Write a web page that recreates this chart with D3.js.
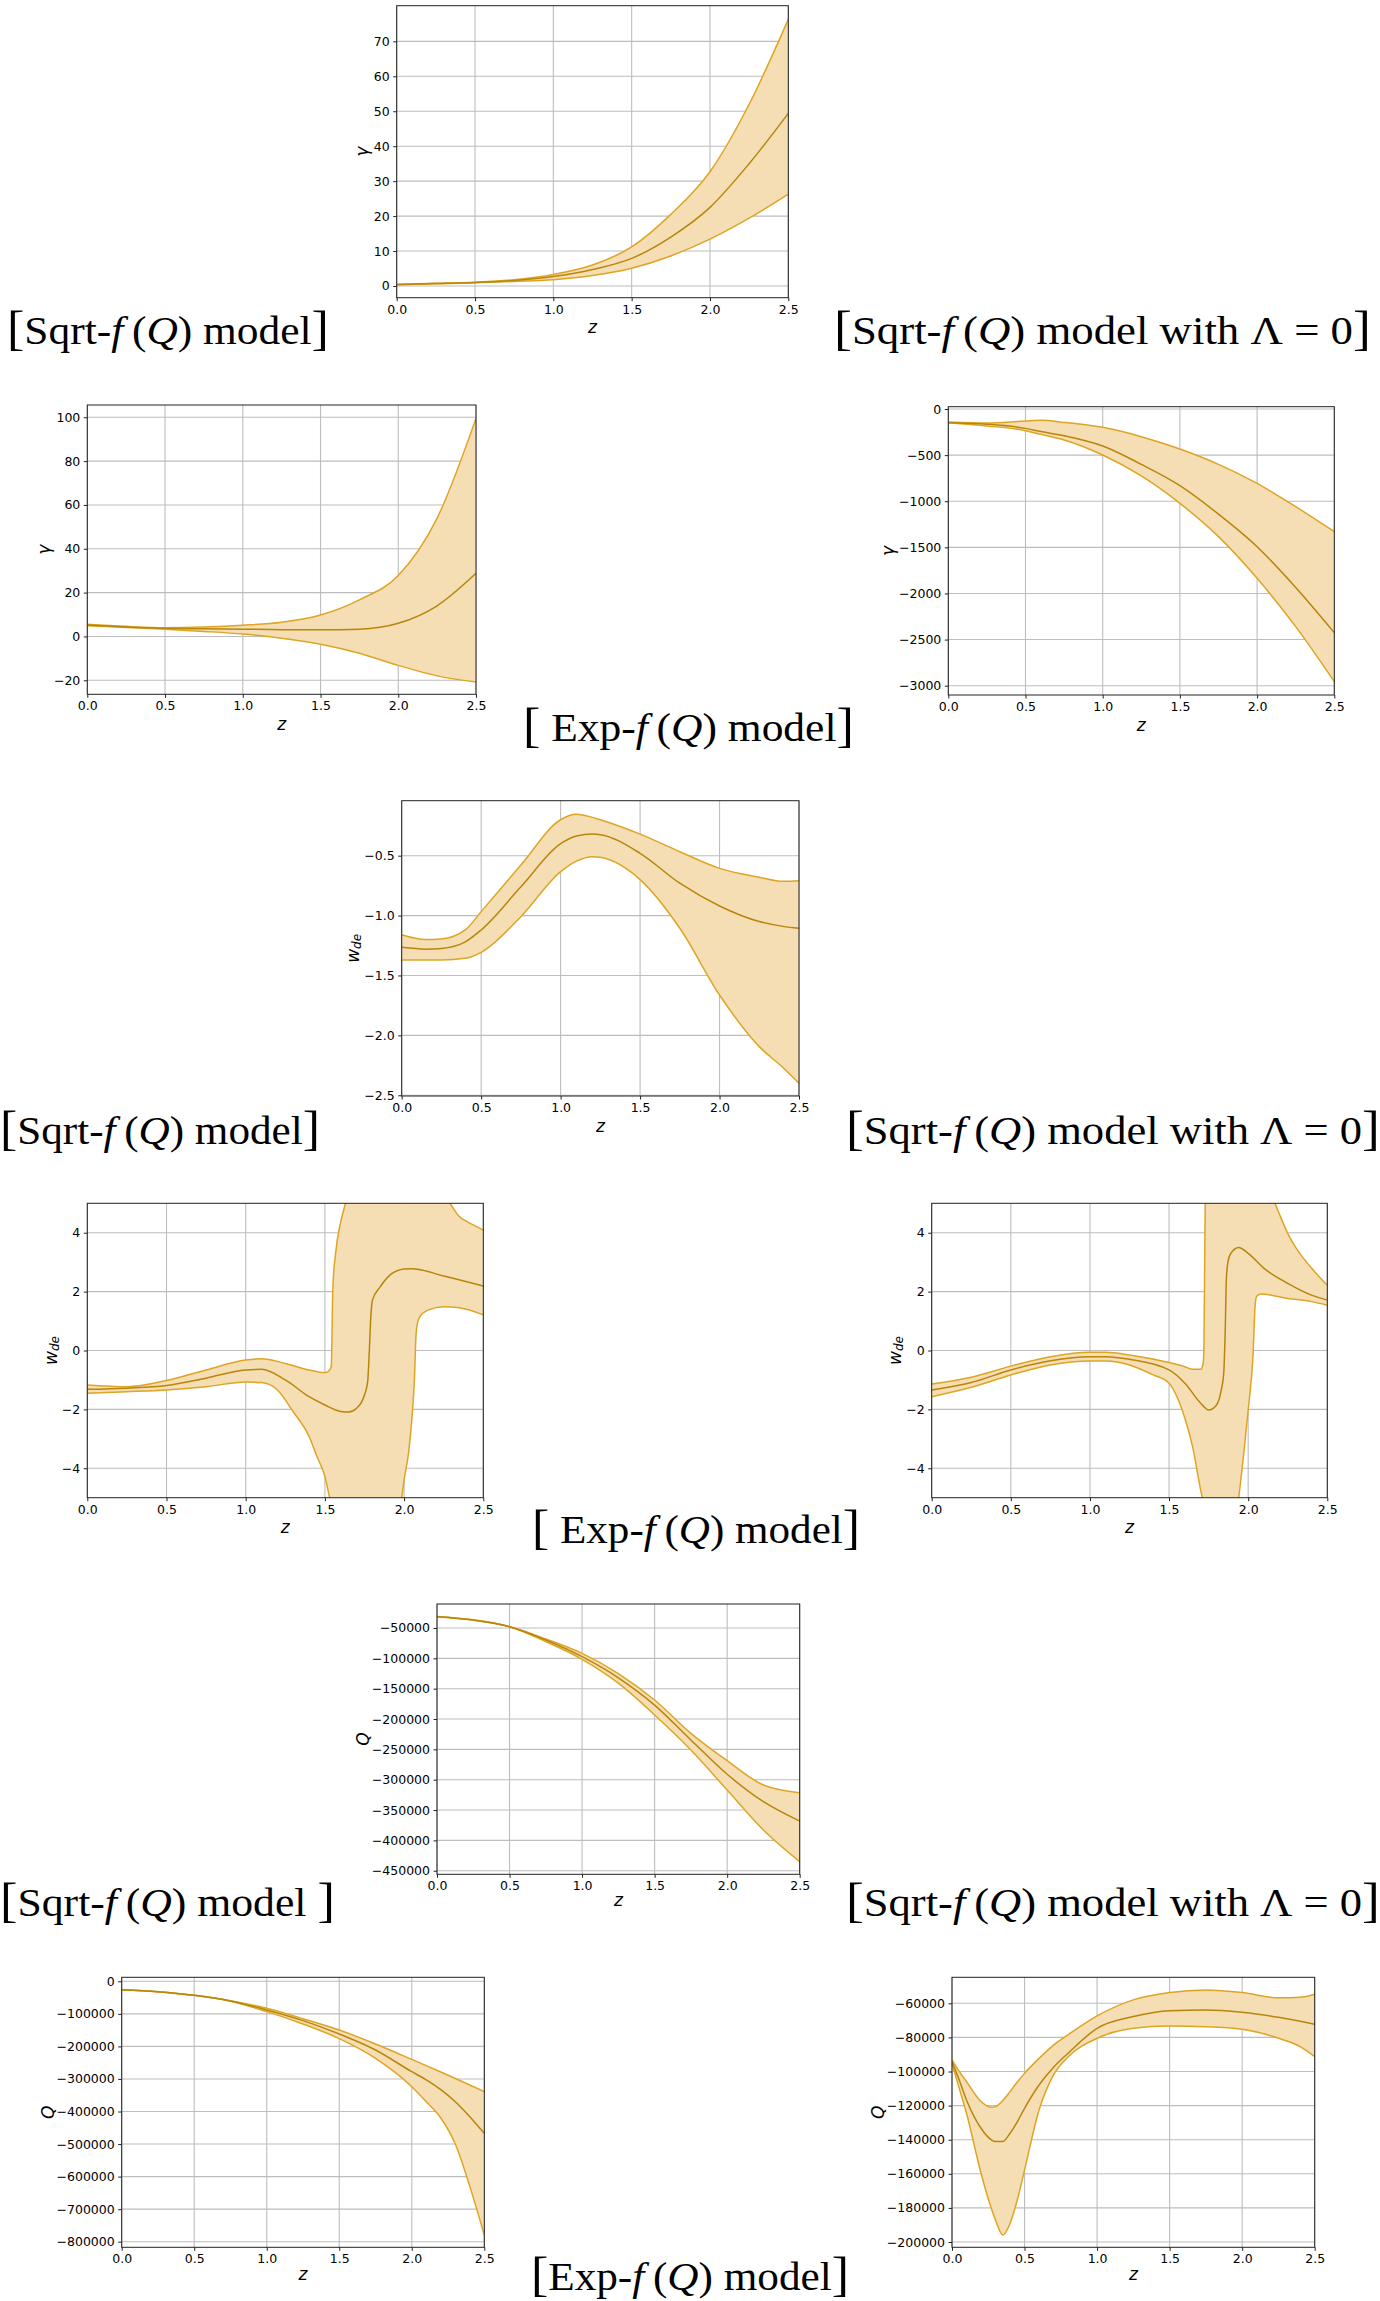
<!DOCTYPE html>
<html>
<head>
<meta charset="utf-8">
<script src="https://cdn.jsdelivr.net/npm/d3@7"></script>
<style>
body { margin: 0; background: #fff; }
svg { display: block; }
</style>
</head>
<body>
<svg id="fig" width="1380" height="2301"></svg>
<script>
// ---- data ----
const xTicks = [0, 0.5, 1.0, 1.5, 2.0, 2.5];

// gamma, Sqrt-f(Q)
const zGammaSqrt = [0, 0.25, 0.5, 0.75, 1.0, 1.25, 1.5, 1.75, 2.0, 2.25, 2.5];
const gammaSqrtMid = [0.4, 0.7, 1.0, 1.6, 2.7, 4.7, 7.9, 14, 22.5, 35, 49.4];
const gammaSqrtUp  = [0.45, 0.75, 1.1, 1.8, 3.3, 6.0, 11.2, 20.5, 32.7, 52, 76.3];
const gammaSqrtLo  = [0.35, 0.65, 0.9, 1.3, 1.8, 3.0, 5.1, 8.6, 13.4, 19.4, 26.3];

// gamma, Exp-f(Q)
const zGammaExp = [0, 0.25, 0.5, 0.75, 1.0, 1.25, 1.5, 1.75, 2.0, 2.25, 2.5];
const gammaExpMid = [5.2, 4.3, 3.7, 3.5, 3.3, 3.1, 3.0, 3.3, 6.0, 14, 28.8];
const gammaExpUp  = [5.6, 4.6, 4.0, 4.3, 5.1, 6.5, 9.8, 16.7, 27.8, 54, 99.5];
const gammaExpLo  = [4.9, 4.1, 3.3, 2.3, 1.1, -0.8, -3.6, -7.7, -13.2, -18, -20.8];

// gamma, Exp-f(Q) with Lambda = 0
const zGammaExp0 = [0, 0.25, 0.5, 0.6, 0.75, 1.0, 1.25, 1.5, 1.75, 2.0, 2.25, 2.5];
const gammaExp0Mid = [-148, -165, -210, -245, -290, -401, -600, -831, -1140, -1493, -1935, -2425];
const gammaExp0Up  = [-141, -152, -130, -123, -145, -199, -300, -434, -600, -806, -1059, -1330];
const gammaExp0Lo  = [-148, -184, -235, -275, -336, -499, -726, -1023, -1384, -1836, -2360, -2956];

// w_de, Sqrt-f(Q)
const zWdeSqrt = [0, 0.15, 0.25, 0.4, 0.5, 0.75, 1.0, 1.1, 1.2, 1.25, 1.5, 1.75, 2.0, 2.25, 2.4, 2.5];
const wdeSqrtMid = [-1.265, -1.28, -1.275, -1.22, -1.12, -0.76, -0.40, -0.336, -0.32, -0.325, -0.48, -0.73, -0.92, -1.05, -1.09, -1.106];
const wdeSqrtUp  = [-1.16, -1.20, -1.195, -1.12, -0.967, -0.578, -0.20, -0.155, -0.18, -0.20, -0.32, -0.467, -0.606, -0.68, -0.714, -0.709];
const wdeSqrtLo  = [-1.37, -1.37, -1.37, -1.357, -1.307, -1.009, -0.633, -0.545, -0.508, -0.514, -0.70, -1.106, -1.663, -2.094, -2.27, -2.40];

// w_de, Exp-f(Q)
const zWdeExpMid = [0, 0.25, 0.5, 0.75, 1.0, 1.1, 1.25, 1.4, 1.5, 1.6, 1.65, 1.7, 1.75, 1.77, 1.78, 1.79, 1.8, 1.85, 1.9, 2.0, 2.05, 2.25, 2.5];
const wdeExpMid  = [-1.32, -1.28, -1.19, -0.94, -0.66, -0.64, -1.0, -1.57, -1.85, -2.07, -2.09, -1.96, -1.51, -1.06, -0.07, 1.15, 1.71, 2.17, 2.51, 2.77, 2.78, 2.53, 2.19];
const zWdeExpUp  = [0, 0.25, 0.5, 0.75, 1.0, 1.1, 1.25, 1.4, 1.5, 1.52, 1.54, 1.55, 1.57, 1.6, 1.63, 1.7, 2.0, 2.2, 2.29, 2.35, 2.4, 2.45, 2.5];
const wdeExpUp   = [-1.17, -1.23, -1.02, -0.66, -0.32, -0.28, -0.44, -0.66, -0.75, -0.72, -0.55, 2.1, 3.41, 4.37, 5.0, 6.5, 7.0, 5.8, 5.0, 4.54, 4.37, 4.23, 4.09];
const zWdeExpLo  = [0, 0.25, 0.5, 0.75, 1.0, 1.1, 1.2, 1.3, 1.4, 1.45, 1.5, 1.53, 1.7, 1.85, 1.985, 2.0, 2.03, 2.05, 2.065, 2.075, 2.085, 2.1, 2.15, 2.25, 2.35, 2.5];
const wdeExpLo   = [-1.45, -1.40, -1.34, -1.23, -1.07, -1.09, -1.34, -2.08, -2.92, -3.60, -4.28, -5.0, -8, -8, -5.0, -4.4, -3.4, -2.25, -1.0, 0.5, 0.95, 1.15, 1.37, 1.49, 1.45, 1.21];

// w_de, Exp-f(Q) with Lambda = 0
const zWdeExp0Mid = [0, 0.25, 0.5, 0.75, 1.0, 1.1, 1.25, 1.5, 1.6, 1.7, 1.75, 1.8, 1.83, 1.845, 1.855, 1.862, 1.872, 1.89, 1.94, 2.0, 2.1, 2.25, 2.4, 2.5];
const wdeExp0Mid  = [-1.34, -1.09, -0.66, -0.35, -0.21, -0.21, -0.30, -0.66, -1.11, -1.79, -2.02, -1.85, -1.34, -0.8, 0.7, 2.4, 3.0, 3.3, 3.5, 3.30, 2.79, 2.28, 1.88, 1.71];
const zWdeExp0Up  = [0, 0.25, 0.5, 0.75, 1.0, 1.1, 1.25, 1.5, 1.6, 1.65, 1.7, 1.715, 1.72, 1.725, 1.73, 1.8, 2.0, 2.17, 2.2, 2.25, 2.3, 2.35, 2.4, 2.45, 2.5];
const wdeExp0Up   = [-1.14, -0.91, -0.53, -0.21, -0.06, -0.06, -0.15, -0.41, -0.55, -0.64, -0.64, -0.45, 0.0, 3.0, 5.5, 8, 8, 5.0, 4.6, 3.98, 3.5, 3.13, 2.8, 2.5, 2.22];
const zWdeExp0Lo  = [0, 0.25, 0.5, 0.75, 1.0, 1.1, 1.25, 1.4, 1.5, 1.55, 1.6, 1.65, 1.7, 1.71, 1.82, 1.94, 1.97, 2.0, 2.03, 2.045, 2.055, 2.08, 2.25, 2.4, 2.5];
const wdeExp0Lo   = [-1.57, -1.25, -0.83, -0.49, -0.36, -0.36, -0.49, -0.83, -1.11, -1.57, -2.3, -3.3, -4.75, -5.0, -8, -5.0, -3.6, -2.02, -0.21, 1.6, 1.85, 1.92, 1.77, 1.66, 1.54];

// Q, Sqrt-f(Q)
const zQSqrt = [0, 0.25, 0.5, 0.75, 1.0, 1.25, 1.5, 1.75, 2.0, 2.25, 2.5];
const qSqrtMid = [-31300, -36800, -47800, -69800, -97300, -132000, -177000, -234600, -291000, -336300, -368200];
const qSqrtUp  = [-31000, -36500, -47500, -68100, -91800, -125000, -168700, -223600, -268700, -308800, -321400];
const qSqrtLo  = [-31600, -37100, -48100, -72500, -101600, -141000, -193400, -251100, -317000, -383000, -435200];

// Q, Exp-f(Q)
const zQExp = [0, 0.25, 0.5, 0.75, 1.0, 1.25, 1.5, 1.75, 2.0, 2.1, 2.2, 2.3, 2.4, 2.5];
const qExpMid = [-25600, -31800, -43000, -60400, -88100, -120900, -161900, -211100, -277700, -303000, -333000, -370000, -416000, -467200];
const qExpUp  = [-25600, -31800, -43000, -59400, -83000, -114800, -149600, -192600, -239800, -259000, -278500, -298500, -318600, -339100];
const qExpLo  = [-25600, -31800, -43000, -61400, -93200, -131100, -176200, -236700, -323800, -370000, -420000, -500000, -630000, -779700];

// Q, Exp-f(Q) with Lambda = 0
const zQExp0 = [0, 0.05, 0.1, 0.2, 0.27, 0.3, 0.35, 0.4, 0.45, 0.5, 0.6, 0.7, 0.8, 1.0, 1.25, 1.5, 1.75, 2.0, 2.25, 2.4, 2.5];
const qExp0Mid = [-94200, -105000, -116700, -133300, -140000, -141100, -141000, -136200, -129500, -121600, -107900, -97500, -89300, -74700, -67800, -64300, -63900, -65300, -68200, -70500, -72300];
const qExp0Up  = [-93200, -100000, -105900, -117600, -121000, -120600, -117000, -111800, -106200, -101100, -92300, -84500, -78500, -67400, -58000, -53700, -52200, -53700, -56800, -56500, -54700];
const qExp0Lo  = [-95200, -109900, -124500, -159700, -180000, -187100, -195900, -189100, -175400, -157800, -122600, -102000, -91500, -80500, -74700, -73300, -73700, -75200, -80500, -85400, -91300];

// ---- panels ----
const panels = [
	{box: [396.7, 5.7, 788.3, 297.7], yDom: [-3.35, 80.2], yTicks: d3.range(0, 71, 10), fmt: 'd', ylab: 'gamma', ylabX: 362,
	 mid: [zGammaSqrt, gammaSqrtMid], up: [zGammaSqrt, gammaSqrtUp], lo: [zGammaSqrt, gammaSqrtLo]},
	{box: [87.3, 405, 476, 694.3], yDom: [-26.4, 105.6], yTicks: d3.range(-20, 101, 20), fmt: 'd', ylab: 'gamma', ylabX: 43.5,
	 mid: [zGammaExp, gammaExpMid], up: [zGammaExp, gammaExpUp], lo: [zGammaExp, gammaExpLo]},
	{box: [948.3, 406.7, 1334.3, 695], yDom: [-3101, 25], yTicks: d3.range(-3000, 1, 500), fmt: 'd', ylab: 'gamma', ylabX: 887.5,
	 mid: [zGammaExp0, gammaExp0Mid], up: [zGammaExp0, gammaExp0Up], lo: [zGammaExp0, gammaExp0Lo]},
	{box: [401.7, 800.7, 799, 1096], yDom: [-2.506, -0.041], yTicks: [-2.5, -2.0, -1.5, -1.0, -0.5], fmt: '.1f', ylab: 'wde', ylabX: 353,
	 mid: [zWdeSqrt, wdeSqrtMid], up: [zWdeSqrt, wdeSqrtUp], lo: [zWdeSqrt, wdeSqrtLo]},
	{box: [87.3, 1203.3, 483.3, 1497.7], yDom: [-5, 5], yTicks: [-4, -2, 0, 2, 4], fmt: 'd', ylab: 'wde', ylabX: 51,
	 mid: [zWdeExpMid, wdeExpMid], up: [zWdeExpUp, wdeExpUp], lo: [zWdeExpLo, wdeExpLo]},
	{box: [931.7, 1203.3, 1327.3, 1497.7], yDom: [-5, 5], yTicks: [-4, -2, 0, 2, 4], fmt: 'd', ylab: 'wde', ylabX: 895,
	 mid: [zWdeExp0Mid, wdeExp0Mid], up: [zWdeExp0Up, wdeExp0Up], lo: [zWdeExp0Lo, wdeExp0Lo]},
	{box: [437, 1604, 799.7, 1874.3], yDom: [-455900, -10450], yTicks: d3.range(-450000, -49999, 50000), fmt: 'd', ylab: 'Q', ylabX: 363, xlabOff: 32,
	 mid: [zQSqrt, qSqrtMid], up: [zQSqrt, qSqrtUp], lo: [zQSqrt, qSqrtLo]},
	{box: [121.7, 1977.3, 484.3, 2247.3], yDom: [-817200, 12300], yTicks: d3.range(-800000, 1, 100000), fmt: 'd', ylab: 'Q', ylabX: 48, xlabOff: 33,
	 mid: [zQExp, qExpMid], up: [zQExp, qExpUp], lo: [zQExp, qExpLo]},
	{box: [952, 1977.3, 1314.7, 2247.3], yDom: [-203100, -44750], yTicks: d3.range(-200000, -59999, 20000), fmt: 'd', ylab: 'Q', ylabX: 878, xlabOff: 33,
	 mid: [zQExp0, qExp0Mid], up: [zQExp0, qExp0Up], lo: [zQExp0, qExp0Lo]}
];

// captions: [x-left, x-right, baseline, kind]
const captions = [
	[7, 329, 344, 'sqrt'], [834, 1371, 344, 'sqrt0'],
	[523, 854, 741, 'exp1'],
	[0, 320, 1144, 'sqrt'], [846, 1380, 1144, 'sqrt0'],
	[532, 860, 1543, 'exp1'],
	[0, 335, 1916, 'sqrt2'], [846, 1380, 1916, 'sqrt0'],
	[531, 849, 2290, 'exp']
];

const fillColour = '#f5deb3', edgeColour = '#dea524', midColour = '#b8860b';
const svg = d3.select('#fig');

function pts(s) { return s[0].map((z, i) => [z, s[1][i]]); }

function drawPanel(p, k) {
	const [L, T, R, B] = p.box;
	const x = d3.scaleLinear().domain([0, 2.5]).range([L, R]);
	const y = d3.scaleLinear().domain(p.yDom).range([B, T]);
	const g = svg.append('g');

	svg.append('clipPath').attr('id', 'clip' + k)
		.append('rect').attr('x', L).attr('y', T).attr('width', R - L).attr('height', B - T);

	// grid
	g.append('g').selectAll('line').data(xTicks).join('line')
		.attr('x1', d => x(d)).attr('x2', d => x(d)).attr('y1', T).attr('y2', B)
		.attr('stroke', '#bdbdbd').attr('stroke-width', 1.1);
	g.append('g').selectAll('line').data(p.yTicks).join('line')
		.attr('x1', L).attr('x2', R).attr('y1', d => y(d)).attr('y2', d => y(d))
		.attr('stroke', '#bdbdbd').attr('stroke-width', 1.1);

	const line = d3.line().x(d => x(d[0])).y(d => y(d[1])).curve(d3.curveMonotoneX);
	const up = pts(p.up), lo = pts(p.lo), mid = pts(p.mid);
	const plot = g.append('g').attr('clip-path', `url(#clip${k})`);
	const back = line(lo.slice().reverse()).replace(/^M/, 'L');
	plot.append('path').attr('d', line(up) + back + 'Z').attr('fill', fillColour);
	plot.append('path').attr('d', line(up)).attr('fill', 'none').attr('stroke', edgeColour).attr('stroke-width', 1.5);
	plot.append('path').attr('d', line(lo)).attr('fill', 'none').attr('stroke', edgeColour).attr('stroke-width', 1.5);
	plot.append('path').attr('d', line(mid)).attr('fill', 'none').attr('stroke', midColour).attr('stroke-width', 1.5);

	// frame
	g.append('rect').attr('x', L).attr('y', T).attr('width', R - L).attr('height', B - T)
		.attr('fill', 'none').attr('stroke', '#222').attr('stroke-width', 1);

	const xa = g.append('g').attr('transform', `translate(0,${B})`)
		.call(d3.axisBottom(x).tickValues(xTicks).tickFormat(d3.format('.1f')).tickSize(3.5).tickPadding(3.5));
	const ya = g.append('g').attr('transform', `translate(${L},0)`)
		.call(d3.axisLeft(y).tickValues(p.yTicks).tickFormat(d3.format(p.fmt)).tickSize(3.5).tickPadding(3.5));
	[xa, ya].forEach(a => {
		a.select('.domain').remove();
		a.selectAll('line').attr('stroke', '#222');
		a.selectAll('text').attr('font-family', 'DejaVu Sans').attr('font-size', 12.5).attr('fill', '#000');
	});

	// axis labels
	g.append('text').attr('x', (L + R) / 2).attr('y', B + (p.xlabOff || 35.5))
		.attr('text-anchor', 'middle').attr('font-family', 'DejaVu Sans').attr('font-style', 'italic')
		.attr('font-size', 17).text('z');
	const cy = (T + B) / 2;
	const yl = g.append('text').attr('transform', `translate(${p.ylabX},${cy}) rotate(-90)`)
		.attr('text-anchor', 'middle').attr('dominant-baseline', 'central')
		.attr('font-family', 'DejaVu Sans').attr('font-style', 'italic').attr('font-size', 17);
	if (p.ylab === 'gamma') yl.text('γ');
	else if (p.ylab === 'Q') yl.text('Q');
	else {
		yl.append('tspan').text('w');
		yl.append('tspan').attr('font-size', 12).attr('dy', 4).text('de');
	}
}

panels.forEach(drawPanel);

// ---- captions ----
function drawCaption(c) {
	const [x0, x1, base, kind] = c;
	const t = svg.append('text').attr('font-family', 'Liberation Serif').attr('font-size', 40).attr('fill', '#000');
	const part = (s, opts = {}) => {
		const sp = t.append('tspan').text(s);
		if (opts.it) sp.attr('font-style', 'italic');
		if (opts.br) sp.attr('font-size', 48);
		return sp;
	};
	part('[', {br: true});
	if (kind === 'exp1') part('\u00a0Exp-');
	else if (kind === 'exp') part('Exp-');
	else part('Sqrt-');
	part('f', {it: true});
	part('\u2009(');
	part('Q', {it: true});
	if (kind === 'sqrt0') part(')\u00a0model with Λ\u00a0=\u00a00');
	else if (kind === 'sqrt2') part(')\u00a0model\u00a0');
	else part(')\u00a0model');
	part(']', {br: true});
	const w = t.node().getComputedTextLength();
	const sx = (x1 - x0) / w;
	t.attr('transform', `translate(${x0},${base}) scale(${sx},1)`);
}

captions.forEach(drawCaption);
</script>
</body>
</html>
